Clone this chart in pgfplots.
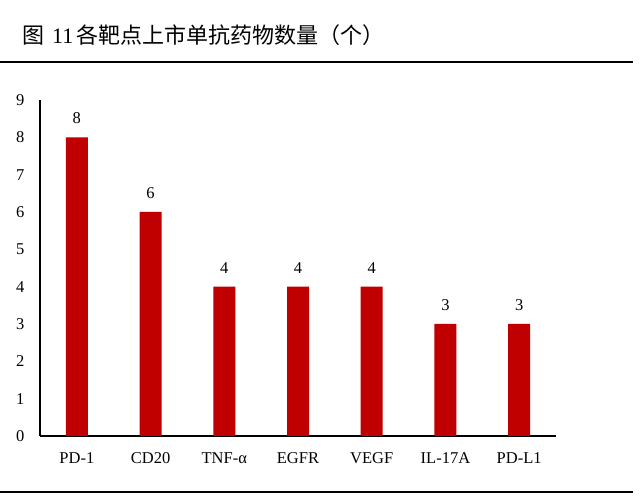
\documentclass[border=0pt]{standalone}
\usepackage{pgfplots}
\pgfplotsset{compat=1.18}
\usepackage{fontspec}
\setmainfont{Liberation Serif}
\newfontfamily\cjk{Noto Sans CJK SC}
\definecolor{barred}{HTML}{C00000}
\begin{document}
\begin{tikzpicture}[x=1bp,y=1bp]
\useasboundingbox (0,0) rectangle (640,499);
\node[anchor=base west, inner sep=0pt, font=\fontsize{22bp}{24bp}\selectfont] at (22,455) {{\cjk 图}\hspace{8bp}11\hspace{3bp}{\cjk 各靶点上市单抗药物数量（个）}};
\draw[line width=1.6bp] (0,437) -- (633,437);
\draw[line width=2bp] (0,7) -- (633,7);
\begin{axis}[
  at={(40bp,63bp)}, anchor=south west,
  scale only axis, width=516bp, height=336bp,
  xmin=-0.5, xmax=6.5, ymin=0, ymax=9,
  axis x line*=bottom, axis y line*=left,
  axis line style={line width=1.3bp, -},
  xtick=data,
  xticklabels={PD-1,CD20,TNF-α,EGFR,VEGF,IL-17A,PD-L1},
  ytick={0,...,9},
  major tick length=0pt,
  tick label style={font=\fontsize{16.5bp}{18bp}\selectfont},
  yticklabel style={xshift=-12bp},
  xticklabel style={yshift=-13bp},
  /pgf/number format/assume math mode=true,
  ybar, bar width=22bp,
  nodes near coords,
  nodes near coords style={font=\fontsize{16.5bp}{18bp}\selectfont, yshift=10bp},
  clip=false,
]
\addplot[fill=barred, draw=none] coordinates {(0,8) (1,6) (2,4) (3,4) (4,4) (5,3) (6,3)};
\end{axis}
\end{tikzpicture}
\end{document}
